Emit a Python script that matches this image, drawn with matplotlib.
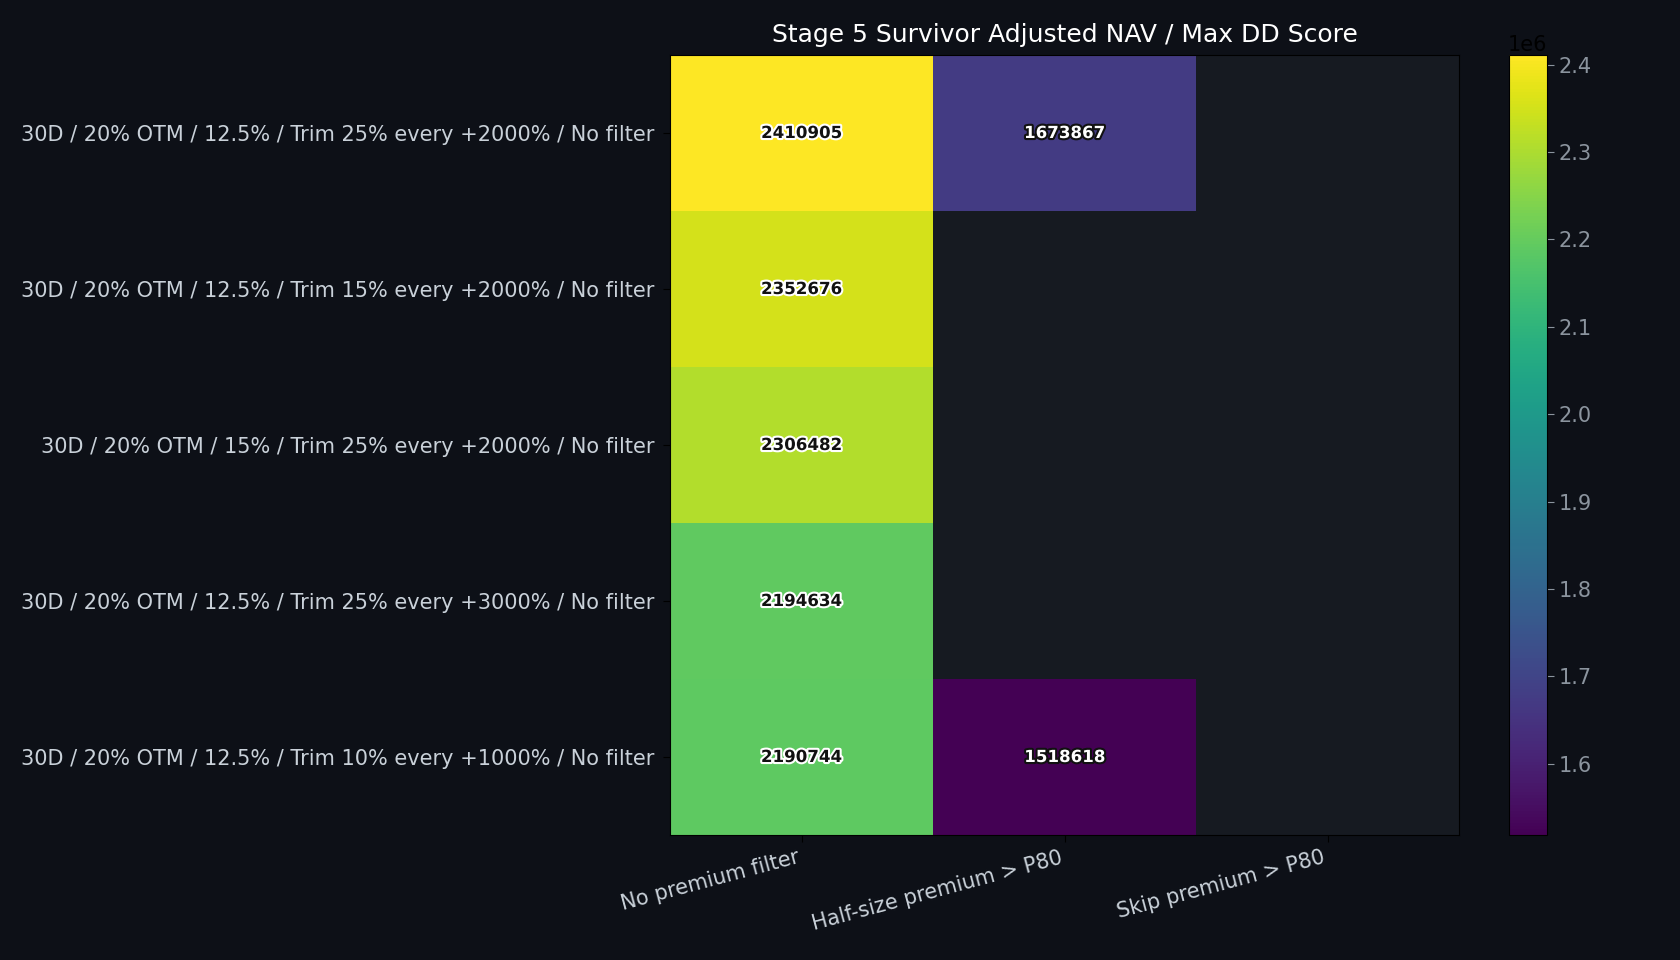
import numpy as np
import matplotlib
matplotlib.use("Agg")
import matplotlib.pyplot as plt
import matplotlib.patheffects as pe

rows = [
    "30D / 20% OTM / 12.5% / Trim 25% every +2000% / No filter",
    "30D / 20% OTM / 12.5% / Trim 15% every +2000% / No filter",
    "30D / 20% OTM / 15% / Trim 25% every +2000% / No filter",
    "30D / 20% OTM / 12.5% / Trim 25% every +3000% / No filter",
    "30D / 20% OTM / 12.5% / Trim 10% every +1000% / No filter",
]
cols = ["No premium filter", "Half-size premium > P80", "Skip premium > P80"]
no_filter = [2410905, 2352676, 2306482, 2194634, 2190744]
half_size = [1673867, np.nan, np.nan, np.nan, 1518618]
skip = [np.nan, np.nan, np.nan, np.nan, np.nan]

data = np.array([no_filter, half_size, skip], dtype=float).T

BG = "#0d1017"
AXBG = "#161a21"
fig = plt.figure(figsize=(16.8, 9.6), dpi=100, facecolor=BG)
ax = fig.add_axes([670/1680, 1-835/960, (1459-670)/1680, (835-55)/960])
cax = fig.add_axes([1509/1680, 1-835/960, (1547-1509)/1680, (835-55)/960])
ax.set_facecolor(AXBG)

vmin = np.nanmin(data)
vmax = np.nanmax(data)
im = ax.imshow(np.ma.masked_invalid(data), cmap="viridis", aspect="auto",
               vmin=vmin, vmax=vmax)

FS = 15
ax.set_xticks(range(len(cols)))
ax.set_xticklabels(cols, rotation=15, ha="right",
                   color="#c9d1d9", fontsize=FS)
ax.set_yticks(range(len(rows)))
ax.set_yticklabels(rows, color="#c9d1d9", fontsize=FS)
ax.tick_params(colors="black", labelcolor="#c9d1d9", length=5)
ax.tick_params(axis="y", pad=6)
ax.tick_params(axis="x", pad=4)
for s in ax.spines.values():
    s.set_color("black")
ax.set_title("Stage 5 Survivor Adjusted NAV / Max DD Score", color="white",
             fontsize=18, pad=9.5)

mid = (vmin + vmax) / 2
for i in range(data.shape[0]):
    for j in range(data.shape[1]):
        v = data[i, j]
        if np.isnan(v):
            continue
        if v > mid:
            tc, sc = "#111111", "white"
        else:
            tc, sc = "white", "#111111"
        ax.text(j, i, f"{int(v)}", ha="center", va="center", fontsize=12,
                fontweight="bold", color=tc,
                path_effects=[pe.withStroke(linewidth=3, foreground=sc)])

cb = fig.colorbar(im, cax=cax)
cb.outline.set_edgecolor("black")
cax.tick_params(colors="#8b949e", labelcolor="#8b949e", labelsize=FS, length=5)
cax.yaxis.get_offset_text().set_fontsize(FS)
cax.yaxis.get_offset_text().set_color("black")

fig.savefig("out.png", dpi=100, facecolor=BG)
